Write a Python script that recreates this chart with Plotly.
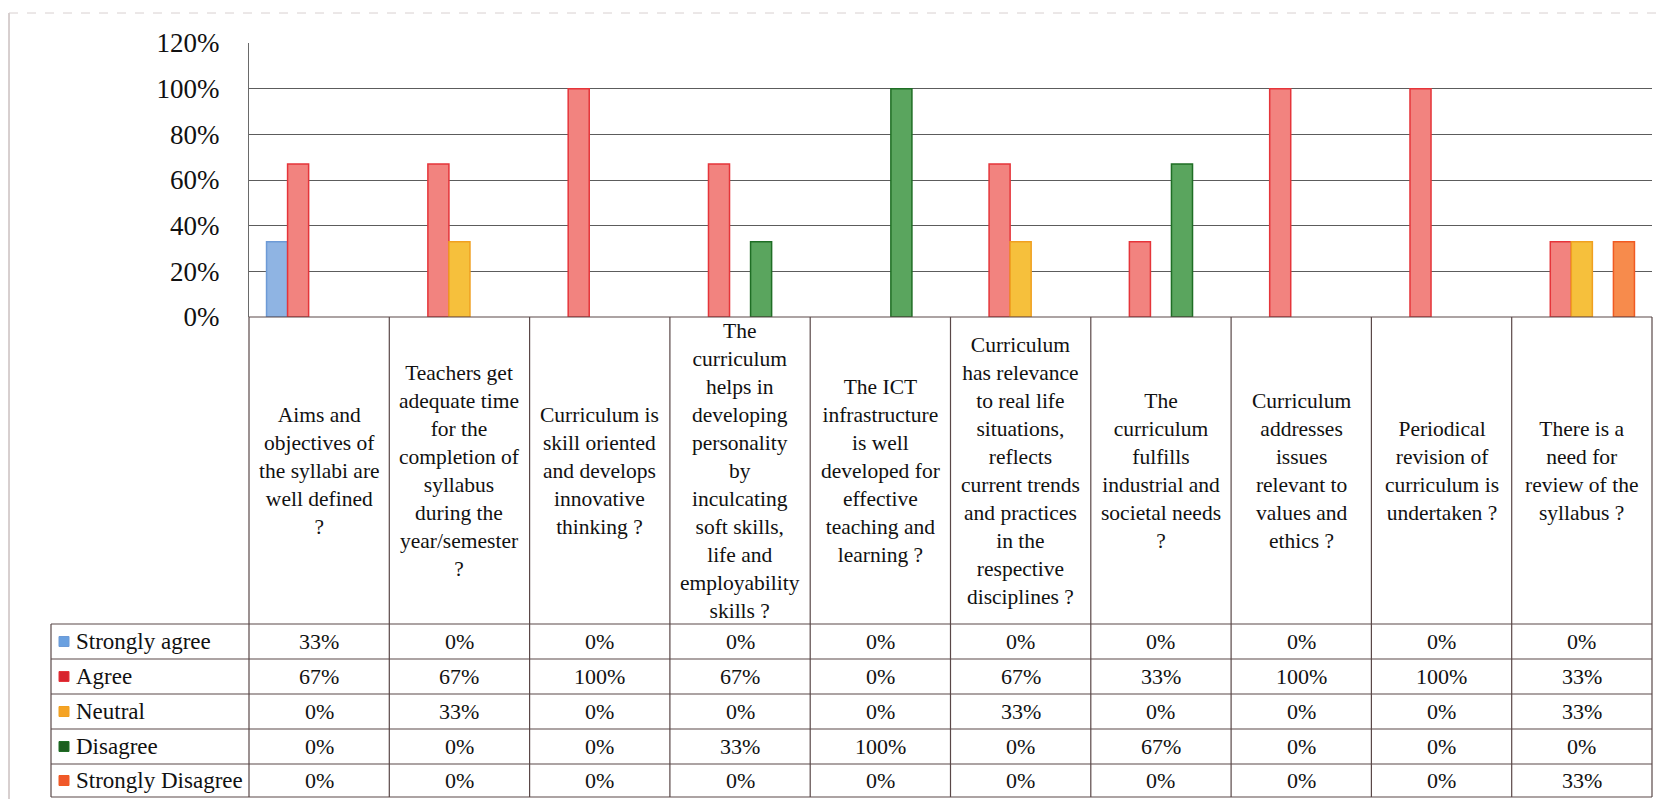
import plotly.graph_objects as go

questions = [
    "Aims and<br>objectives of<br>the syllabi are<br>well defined<br>?",
    "Teachers get<br>adequate time<br>for the<br>completion of<br>syllabus<br>during the<br>year/semester<br>?",
    "Curriculum is<br>skill oriented<br>and develops<br>innovative<br>thinking ?",
    "The<br>curriculum<br>helps in<br>developing<br>personality<br>by<br>inculcating<br>soft skills,<br>life and<br>employability<br>skills ?",
    "The ICT<br>infrastructure<br>is well<br>developed for<br>effective<br>teaching and<br>learning ?",
    "Curriculum<br>has relevance<br>to real life<br>situations,<br>reflects<br>current trends<br>and practices<br>in the<br>respective<br>disciplines ?",
    "The<br>curriculum<br>fulfills<br>industrial and<br>societal needs<br>?",
    "Curriculum<br>addresses<br>issues<br>relevant to<br>values and<br>ethics ?",
    "Periodical<br>revision of<br>curriculum is<br>undertaken ?",
    "There is a<br>need for<br>review of the<br>syllabus ?",
]
keys = [f"Q{i + 1}" for i in range(len(questions))]

series_names = ["Strongly agree", "Agree", "Neutral", "Disagree", "Strongly Disagree"]
strongly_agree = [33, 0, 0, 0, 0, 0, 0, 0, 0, 0]
agree = [67, 67, 100, 67, 0, 67, 33, 100, 100, 33]
neutral = [0, 33, 0, 0, 0, 33, 0, 0, 0, 33]
disagree = [0, 0, 0, 33, 100, 0, 67, 0, 0, 0]
strongly_disagree = [0, 0, 0, 0, 0, 0, 0, 0, 0, 33]
all_series = [strongly_agree, agree, neutral, disagree, strongly_disagree]

fills = ["#8fb4e3", "#f2837f", "#f6c03c", "#5aa55e", "#f78b4c"]
edges = ["#6d9ad6", "#e5353a", "#f0a020", "#1f6e25", "#f05a22"]
keys_fill = ["#6aa0e0", "#d8232d", "#f5a324", "#1c5e1f", "#f0582a"]

# page body keeps its 8px margin, so the figure is 16px smaller than the window
OFF = 8
W, H = 1671 - 2 * OFF, 807 - 2 * OFF
def px(x):
    return (x - OFF) / W
def py(y):
    return 1 - (y - OFF) / H

left, right = 249, 1652
top, zero = 43, 317
cat_bottom = 624
rows_y = [624, 659, 694, 729, 764, 797]
leg_left = 51
col_w = (right - left) / 10
line_col = "#5a4848"
serif = "Liberation Serif, Times New Roman, serif"

fig = go.Figure()
for name, vals, f, e in zip(series_names, all_series, fills, edges):
    fig.add_trace(go.Bar(
        name=name, x=keys, y=vals,
        marker=dict(color=f, line=dict(color=e, width=[1.5 if v else 0 for v in vals])),
        showlegend=False,
    ))

shapes = []
# outer chart frame (faint)
shapes.append(dict(type="line", xref="paper", yref="paper",
                   x0=px(9), x1=px(9), y0=py(13), y1=0,
                   line=dict(color="#b0a0a0", width=1)))
shapes.append(dict(type="line", xref="paper", yref="paper",
                   x0=px(9), x1=1, y0=py(13), y1=py(13),
                   line=dict(color="#d8d0d0", width=1, dash="dash")))
# table horizontal lines
for y in rows_y:
    shapes.append(dict(type="line", xref="paper", yref="paper",
                       x0=px(leg_left), x1=px(right), y0=py(y), y1=py(y),
                       line=dict(color=line_col, width=1.2)))
shapes.append(dict(type="line", xref="paper", yref="paper",
                   x0=px(left), x1=px(right), y0=py(zero), y1=py(zero),
                   line=dict(color=line_col, width=1.2)))
# table vertical lines
shapes.append(dict(type="line", xref="paper", yref="paper",
                   x0=px(leg_left), x1=px(leg_left), y0=py(rows_y[0]), y1=py(rows_y[-1]),
                   line=dict(color=line_col, width=1.2)))
for i in range(11):
    x = left + i * col_w
    shapes.append(dict(type="line", xref="paper", yref="paper",
                       x0=px(x), x1=px(x), y0=py(zero), y1=py(rows_y[-1]),
                       line=dict(color=line_col, width=1.2)))

annotations = []
for k, q in zip(keys, questions):
    annotations.append(dict(x=k, xref="x", y=py((zero + cat_bottom) / 2), yref="paper",
                            text=q, showarrow=False, align="center",
                            xanchor="center", yanchor="middle",
                            font=dict(family=serif, size=21.5, color="#111")))

for r, (name, vals, kf, e) in enumerate(zip(series_names, all_series, keys_fill, edges)):
    yc = (rows_y[r] + rows_y[r + 1]) / 2
    shapes.append(dict(type="rect", xref="paper", yref="paper",
                       x0=px(59), x1=px(69), y0=py(yc - 5), y1=py(yc + 5),
                       fillcolor=kf, line=dict(color=e, width=1)))
    annotations.append(dict(x=px(74), xref="paper", y=py(yc), yref="paper",
                            text=name, showarrow=False, xanchor="left", yanchor="middle",
                            font=dict(family=serif, size=23, color="#111")))
    for k, v in zip(keys, vals):
        annotations.append(dict(x=k, xref="x", y=py(yc), yref="paper",
                                text=f"{v}%", showarrow=False,
                                xanchor="center", yanchor="middle",
                                font=dict(family=serif, size=22, color="#111")))

fig.update_layout(
    width=W, height=H,
    margin=dict(l=0, r=0, t=0, b=0, autoexpand=False),
    paper_bgcolor="white", plot_bgcolor="white",
    barmode="group", bargap=0.25, bargroupgap=0,
    xaxis=dict(domain=[px(left), px(right)], range=[-0.5, 9.5],
               showticklabels=False, showgrid=False, zeroline=False, showline=False),
    yaxis=dict(domain=[py(zero), py(top)], range=[0, 120], dtick=20, ticksuffix="%",
               showgrid=True, gridcolor="#5c5c5c", gridwidth=1,
               zeroline=False, showline=True, linecolor="#6a6a6a", linewidth=1,
               ticklabelstandoff=23,
               tickfont=dict(family=serif, size=27, color="#111")),
    shapes=shapes,
    annotations=annotations,
)

fig.write_html("out.html")
